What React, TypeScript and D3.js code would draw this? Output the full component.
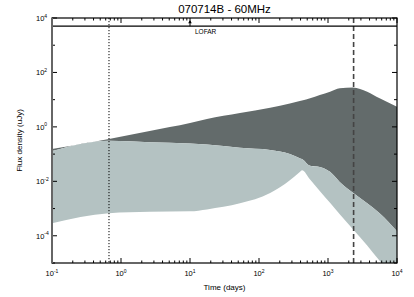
import * as d3 from 'd3';

// Time since burst (days)
const times = [0.1, 0.67, 2.6, 10, 17.6, 53, 145, 280, 390, 420, 550, 760, 1070, 1480, 2300, 3700, 5600, 10000];
// Flux density envelopes (uJy)
const darkUpper = [0.153, 0.356, 0.71, 1.38, 1.95, 3.24, 5.0, 7.2, 8.9, 9.3, 11.2, 14.8, 19.5, 26.3, 28.2, 19.5, 11.2, 5.5];
const lightUpper = [0.129, 0.309, 0.275, 0.245, 0.224, 0.17, 0.141, 0.1, 0.0708, 0.066, 0.0372, 0.0339, 0.0224, 0.00955, 0.0038, 0.00158, 0.000676, 0.000148];
const lightLower = [0.000288, 0.000676, 0.000759, 0.000794, 0.000933, 0.00155, 0.00372, 0.011, 0.0219, 0.0257, 0.0117, 0.00437, 0.00162, 0.000617, 0.000174, 0.0000437, 0.000012, 0.00000234];

const xTickExps = [-1, 0, 1, 2, 3, 4];
const yTickExps = [-5, -4, -3, -2, -1, 0, 1, 2, 3, 4];
const yLabelExps = [-4, -2, 0, 2, 4];

const lofarLimit = 5000; // uJy
const lofarTime = 10; // days
const dottedTime = 0.67;
const dashedTime = 2350;

const W = 414;
const H = 297;
const margin = { top: 18, right: 17, bottom: 34, left: 52 };
const font = 'Liberation Sans, Arial, sans-serif';

export default function App() {
  const x = d3.scaleLog().domain([0.1, 1e4]).range([margin.left, W - margin.right]);
  const y = d3.scaleLog().domain([1e-5, 1e4]).range([H - margin.bottom, margin.top]);
  const [x0, x1] = x.range();
  const [yb, yt] = y.range();

  const rows = times.map((t, i) => ({ t, du: darkUpper[i], lu: lightUpper[i], ll: lightLower[i] }));

  const darkBand = d3
    .area<(typeof rows)[number]>()
    .x((d) => x(d.t))
    .y0((d) => y(d.lu))
    .y1((d) => y(d.du))
    .curve(d3.curveMonotoneX);
  const lightBand = d3
    .area<(typeof rows)[number]>()
    .x((d) => x(d.t))
    .y0((d) => y(d.ll))
    .y1((d) => y(d.lu))
    .curve(d3.curveMonotoneX);

  // minor ticks on x (2..9 per decade)
  const xMinor: number[] = [];
  for (let e = -1; e < 4; e++) for (let m = 2; m < 10; m++) xMinor.push(m * 10 ** e);

  const sup = (e: number) => (
    <>
      10
      <tspan dy={-3.5} fontSize={5}>
        {e}
      </tspan>
    </>
  );

  return (
    <svg
      width={W}
      height={H}
      style={{ position: 'absolute', left: 0, top: 0, background: '#fff' }}
      fontFamily={font}
    >
      <defs>
        <clipPath id="plot">
          <rect x={x0} y={yt} width={x1 - x0} height={yb - yt} />
        </clipPath>
      </defs>

      <g clipPath="url(#plot)">
        <path d={darkBand(rows) ?? ''} fill="#636b6b" />
        <path d={lightBand(rows) ?? ''} fill="#b4c2c2" />
      </g>

      {/* reference lines */}
      <line x1={x(dottedTime)} x2={x(dottedTime)} y1={yt} y2={yb} stroke="#000" strokeWidth={1} strokeDasharray="1.2,1.8" />
      <line x1={x(dashedTime)} x2={x(dashedTime)} y1={yt} y2={yb} stroke="#444" strokeWidth={1.6} strokeDasharray="5,3" />

      {/* LOFAR limit */}
      <line x1={x0} x2={x1} y1={y(lofarLimit)} y2={y(lofarLimit)} stroke="#000" strokeWidth={1.2} />
      <line x1={x(lofarTime)} x2={x(lofarTime)} y1={y(lofarLimit)} y2={y(lofarLimit) - 5} stroke="#000" strokeWidth={1} />
      <path
        d={`M${x(lofarTime) - 1.8},${y(lofarLimit) - 3} L${x(lofarTime)},${y(lofarLimit) - 6} L${x(lofarTime) + 1.8},${y(lofarLimit) - 3} Z`}
        fill="#000"
      />
      <text x={x(lofarTime) + 5} y={y(lofarLimit) + 8} fontSize={6.5} fill="#000">
        LOFAR
      </text>

      {/* x ticks (bottom + top) */}
      {xTickExps.map((e) => (
        <g key={`xt${e}`}>
          <line x1={x(10 ** e)} x2={x(10 ** e)} y1={yb} y2={yb - 5} stroke="#000" />
          <line x1={x(10 ** e)} x2={x(10 ** e)} y1={yt} y2={yt + 5} stroke="#000" />
          <text x={x(10 ** e)} y={yb + 13} fontSize={7.5} textAnchor="middle">
            {sup(e)}
          </text>
        </g>
      ))}
      {xMinor.map((v) => (
        <g key={`xm${v}`}>
          <line x1={x(v)} x2={x(v)} y1={yb} y2={yb - 2.5} stroke="#000" />
          <line x1={x(v)} x2={x(v)} y1={yt} y2={yt + 2.5} stroke="#000" />
        </g>
      ))}

      {/* y ticks (left + right) */}
      {yTickExps.map((e) => {
        const len = yLabelExps.includes(e) ? 5 : 3;
        return (
          <g key={`yt${e}`}>
            <line x1={x0} x2={x0 + len} y1={y(10 ** e)} y2={y(10 ** e)} stroke="#000" />
            <line x1={x1} x2={x1 - len} y1={y(10 ** e)} y2={y(10 ** e)} stroke="#000" />
          </g>
        );
      })}
      {yLabelExps.map((e) => (
        <text key={`yl${e}`} x={x0 - 16} y={y(10 ** e) + 3} fontSize={7.5} textAnchor="start">
          {sup(e)}
        </text>
      ))}

      {/* frame */}
      <rect x={x0} y={yt} width={x1 - x0} height={yb - yt} fill="none" stroke="#000" strokeWidth={1.2} />
      <line x1={x0} x2={x0} y1={yt} y2={yb} stroke="#666" strokeWidth={2} />

      {/* titles */}
      <text x={(x0 + x1) / 2} y={13} fontSize={11.5} textAnchor="middle">
        070714B - 60MHz
      </text>
      <text x={(x0 + x1) / 2} y={290} fontSize={8} textAnchor="middle">
        Time (days)
      </text>
      <text
        transform={`translate(22,${(yt + yb) / 2}) rotate(-90)`}
        fontSize={8}
        textAnchor="middle"
      >
        Flux density (uJy)
      </text>
    </svg>
  );
}
